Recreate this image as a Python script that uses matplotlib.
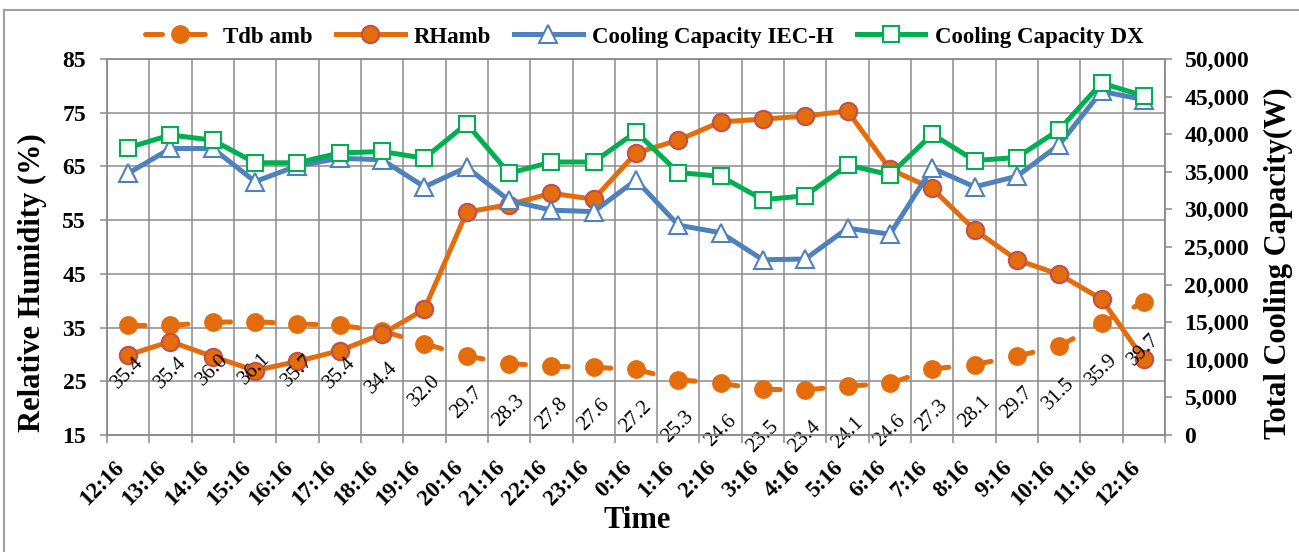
import numpy as np
import matplotlib.pyplot as plt
from matplotlib.lines import Line2D
from matplotlib.ticker import FuncFormatter

plt.rcParams['font.family'] = ['Liberation Serif', 'DejaVu Serif']

# data
times = ['12:16', '13:16', '14:16', '15:16', '16:16', '17:16', '18:16', '19:16',
         '20:16', '21:16', '22:16', '23:16', '0:16', '1:16', '2:16', '3:16',
         '4:16', '5:16', '6:16', '7:16', '8:16', '9:16', '10:16', '11:16', '12:16']
tdb = [35.4, 35.4, 36.0, 36.1, 35.7, 35.4, 34.4, 32.0, 29.7, 28.3, 27.8, 27.6, 27.2,
       25.3, 24.6, 23.5, 23.4, 24.1, 24.6, 27.3, 28.1, 29.7, 31.5, 35.9, 39.7]
rh = [29.9, 32.4, 29.6, 27.0, 28.7, 30.7, 33.8, 38.4, 56.5, 57.9, 60.0, 58.9, 67.5,
      69.9, 73.3, 73.8, 74.4, 75.3, 64.5, 60.9, 53.2, 47.6, 44.9, 40.3, 29.1]
cap_iec = [34800, 38100, 38100, 33700, 35800, 36800, 36600, 33000, 35600, 31200, 29900,
           29700, 33900, 27900, 26900, 23300, 23400, 27500, 26700, 35500, 33000, 34400,
           38600, 45700, 44600]
cap_dx = [38200, 39900, 39200, 36200, 36200, 37500, 37700, 36800, 41400, 34800, 36300,
          36300, 40300, 34900, 34400, 31300, 31800, 35900, 34600, 40000, 36500, 36900,
          40600, 46800, 45100]

orange = '#E46C0A'
red = '#C0504D'
blue = '#4F81BD'
green = '#00B050'
grey = '#8C8C8C'

x = np.arange(len(times))

fig = plt.figure(figsize=(12.99, 5.52), dpi=100)
ax = fig.add_axes([107/1299, 1-435/552, (1165-107)/1299, (435-59)/552])

lw = 3.6
# dash period a bit over one category, so each dash trails its marker
l1, = ax.plot(x, tdb, color=orange, lw=lw, linestyle=(0, (3.4, 5.16)),
              dash_capstyle='round', marker='o', ms=12.5, mfc=orange, mec=orange,
              label='Tdb amb', zorder=3)
l2, = ax.plot(x, rh, color=orange, lw=lw, marker='o', ms=12.5, mfc=orange, mec=red,
              mew=1.5, label='RHamb', zorder=4)

for i, v in enumerate(tdb):
    ax.annotate(f'{v:.1f}', (x[i], v), xytext=(0, -34), textcoords='offset points',
                ha='center', va='center', rotation=45, fontsize=15, zorder=6)

ax.set_xlim(-0.5, len(times) - 0.5)
ax.set_ylim(15, 85)
ax.set_yticks(np.arange(15, 86, 10))
ax.set_xticks(np.arange(-0.5, len(times), 1))
ax.set_xticklabels([])
ax.set_xticks(x, minor=True)
ax.set_xticklabels(times, minor=True, rotation=45, ha='right', fontsize=16.5, fontweight='bold')
ax.tick_params(axis='x', which='major', length=6, width=1.1, color=grey)
ax.tick_params(axis='x', which='minor', length=0, pad=16)
ax.tick_params(axis='y', length=5, width=1.1, color=grey, pad=10, labelsize=17)
for t in ax.get_yticklabels():
    t.set_fontweight('bold')
ax.grid(True, which='major', color=grey, lw=1.1)
ax.set_axisbelow(True)
for s in ax.spines.values():
    s.set_color(grey)
    s.set_linewidth(1.1)

ax2 = ax.twinx()
l3, = ax2.plot(x, cap_iec, color=blue, lw=lw, marker='^', ms=12.5, mfc='white', mec=blue,
               mew=1.5, label='Cooling Capacity IEC-H', zorder=3)
l4, = ax2.plot(x, cap_dx, color=green, lw=lw, marker='s', ms=11.5, mfc='white', mec=green,
               mew=1.5, label='Cooling Capacity DX', zorder=4)
ax2.set_ylim(0, 50000)
ax2.set_yticks(np.arange(0, 50001, 5000))
ax2.yaxis.set_major_formatter(FuncFormatter(lambda v, p: f'{v:,.0f}'))
ax2.tick_params(axis='y', length=5, width=1.1, color=grey, pad=9, labelsize=17)
for t in ax2.get_yticklabels():
    t.set_fontweight('bold')
for s in ax2.spines.values():
    s.set_color(grey)
    s.set_linewidth(1.1)

fig.text(32/1299, 1-283/552, 'Relative Humidity (%)', rotation=90, ha='center',
         va='center', fontsize=22, fontweight='bold')
fig.text(1278/1299, 1-263/552, 'Total Cooling Capacity(W)', rotation=90, ha='center',
         va='center', fontsize=22, fontweight='bold')
fig.text(637/1299, 1-520/552, 'Time', ha='center', va='center', fontsize=22,
         fontweight='bold')

fig.legend(handles=[l1, l2, l3, l4], loc='center', bbox_to_anchor=(0.496, 1-37/552),
           ncol=4, frameon=False, handlelength=3, handletextpad=0.4, columnspacing=1.0,
           prop={'size': 16.5, 'weight': 'bold'})

# chart area border (only top and left are inside the picture)
fig.add_artist(Line2D([4/1299, 4/1299], [0, 1-10/552], color='#A0A0A0', lw=1.5))
fig.add_artist(Line2D([4/1299, 1], [1-10/552, 1-10/552], color='#A0A0A0', lw=1.5))

fig.savefig('out.png', dpi=100)
